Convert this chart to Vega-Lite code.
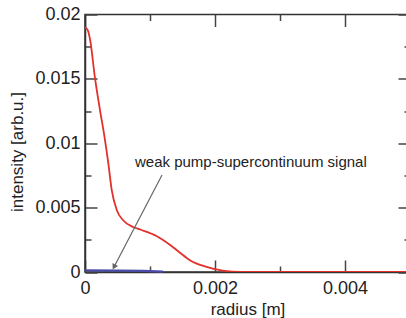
{
  "$schema": "https://vega.github.io/schema/vega-lite/v6.json",
  "width": 325,
  "height": 257.5,
  "autosize": {"type": "none"},
  "padding": {"left": 85, "top": 14.5, "right": 0, "bottom": 46},
  "background": "white",
  "config": {
    "view": {"stroke": "#333", "strokeWidth": 1.5},
    "font": "Liberation Sans",
    "axis": {
      "labelFont": "Liberation Sans",
      "titleFont": "Liberation Sans",
      "labelColor": "#222",
      "titleColor": "#222",
      "labelFontSize": 18,
      "titleFontSize": 17,
      "titleFontWeight": "normal",
      "domainColor": "#333",
      "domainWidth": 1.5,
      "tickColor": "#444",
      "tickWidth": 1.5,
      "labelFlush": false,
      "grid": false
    }
  },
  "datasets": {
    "pump": [
      {"r": 0, "I": 0.0190},
      {"r": 0.00004, "I": 0.0188},
      {"r": 0.00008, "I": 0.0180},
      {"r": 0.00015, "I": 0.0152},
      {"r": 0.00023, "I": 0.0126},
      {"r": 0.00030, "I": 0.0105},
      {"r": 0.00036, "I": 0.0084},
      {"r": 0.00041, "I": 0.0064},
      {"r": 0.00049, "I": 0.0048},
      {"r": 0.00059, "I": 0.0040},
      {"r": 0.00074, "I": 0.0035},
      {"r": 0.00085, "I": 0.0033},
      {"r": 0.0011, "I": 0.0028},
      {"r": 0.00131, "I": 0.0021},
      {"r": 0.00146, "I": 0.0015},
      {"r": 0.00162, "I": 0.0009},
      {"r": 0.00187, "I": 0.0004},
      {"r": 0.00212, "I": 0.0001},
      {"r": 0.0024, "I": 0.0},
      {"r": 0.005, "I": 0.0}
    ],
    "signal": [
      {"r": 0, "I": 0.00012},
      {"r": 0.0005, "I": 0.00011},
      {"r": 0.0009, "I": 0.00008},
      {"r": 0.0012, "I": 0.00003}
    ],
    "arrow": [
      {"r": 0.001185, "I": 0.00753, "r2": 0.000446, "I2": 0.00039}
    ],
    "note": [
      {"r": 0.000769, "I": 0.00854, "label": "weak pump-supercontinuum signal"}
    ]
  },
  "layer": [
    {
      "data": {"name": "pump"},
      "mark": {"type": "line", "color": "#e2312b", "strokeWidth": 1.8, "interpolate": "monotone", "clip": true},
      "encoding": {
        "x": {
          "field": "r", "type": "quantitative",
          "scale": {"domain": [0, 0.005], "nice": false},
          "axis": {
            "orient": "bottom",
            "title": "radius [m]",
            "values": [0, 0.001, 0.002, 0.003, 0.004, 0.005],
            "format": "~g",
            "labelExpr": "round(datum.value*1000)%2==0 ? datum.label : ''",
            "tickSize": {"expr": "round(datum.value*1000)%2==0 ? -12 : -6"},
            "labelPadding": 19,
            "titlePadding": 4
          }
        },
        "y": {
          "field": "I", "type": "quantitative",
          "scale": {"domain": [0, 0.02], "nice": false},
          "axis": {
            "orient": "left",
            "title": "intensity [arb.u.]",
            "values": [0, 0.0025, 0.005, 0.0075, 0.01, 0.0125, 0.015, 0.0175, 0.02],
            "format": "~g",
            "labelExpr": "round(datum.value*400)%2==0 ? datum.label : ''",
            "tickSize": {"expr": "round(datum.value*400)%2==0 ? -12 : -6"},
            "labelPadding": 17,
            "titlePadding": 8,
            "titleY": 137
          }
        }
      }
    },
    {
      "data": {"name": "signal"},
      "mark": {"type": "line", "color": "#4a4aa8", "strokeWidth": 2.2},
      "encoding": {
        "x": {
          "field": "r", "type": "quantitative",
          "axis": {
            "orient": "top", "title": null, "labels": false, "domain": false,
            "values": [0, 0.001, 0.002, 0.003, 0.004, 0.005],
            "tickSize": {"expr": "round(datum.value*1000)%2==0 ? -12 : -6"}
          }
        },
        "y": {
          "field": "I", "type": "quantitative",
          "axis": {
            "orient": "right", "title": null, "labels": false, "domain": false,
            "values": [0, 0.0025, 0.005, 0.0075, 0.01, 0.0125, 0.015, 0.0175, 0.02],
            "tickSize": {"expr": "round(datum.value*400)%2==0 ? -12 : -6"}
          }
        }
      }
    },
    {
      "data": {"name": "arrow"},
      "mark": {"type": "rule", "color": "#666", "strokeWidth": 1.2},
      "encoding": {
        "x": {"field": "r", "type": "quantitative", "axis": null},
        "y": {"field": "I", "type": "quantitative", "axis": null},
        "x2": {"field": "r2"},
        "y2": {"field": "I2"}
      }
    },
    {
      "data": {"name": "arrow"},
      "mark": {"type": "point", "shape": "triangle-down", "filled": true, "color": "#666", "size": 40, "angle": 27.6, "opacity": 1},
      "encoding": {
        "x": {"field": "r2", "type": "quantitative", "axis": null},
        "y": {"field": "I2", "type": "quantitative", "axis": null}
      }
    },
    {
      "data": {"name": "note"},
      "mark": {"type": "text", "align": "left", "baseline": "middle", "fontSize": 15, "font": "Liberation Sans", "color": "#222"},
      "encoding": {
        "x": {"field": "r", "type": "quantitative", "axis": null},
        "y": {"field": "I", "type": "quantitative", "axis": null},
        "text": {"field": "label"}
      }
    }
  ],
  "resolve": {"axis": {"x": "independent", "y": "independent"}}
}
